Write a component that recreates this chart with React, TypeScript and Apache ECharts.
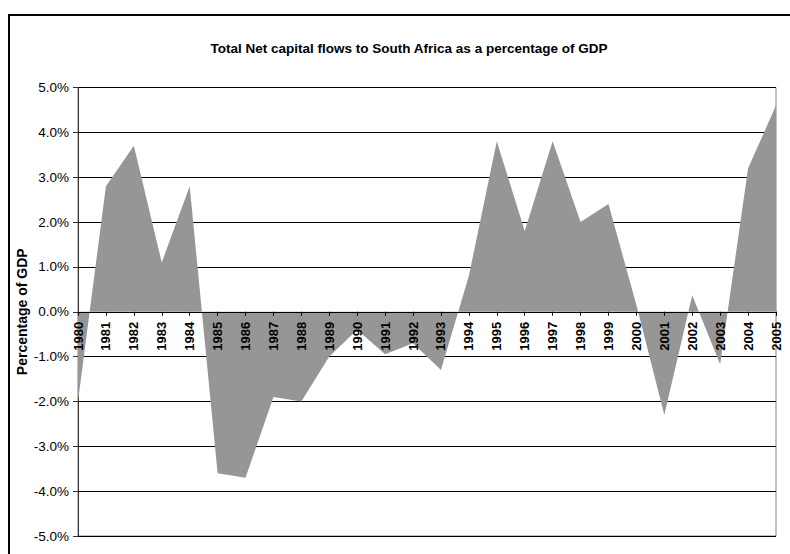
import React, { useEffect, useRef } from "react";
import * as echarts from "echarts";

const years = [
  "1980", "1981", "1982", "1983", "1984", "1985", "1986", "1987", "1988", "1989",
  "1990", "1991", "1992", "1993", "1994", "1995", "1996", "1997", "1998", "1999",
  "2000", "2001", "2002", "2003", "2004", "2005",
];
const netFlows = [
  -2.0, 2.8, 3.7, 1.1, 2.8, -3.6, -3.7, -1.9, -2.0, -1.0,
  -0.4, -0.95, -0.7, -1.3, 0.8, 3.8, 1.8, 3.8, 2.0, 2.4,
  0.15, -2.3, 0.37, -1.17, 3.2, 4.6,
];
const titleText = "Total Net capital flows to South Africa as a percentage of GDP";
const yName = "Percentage of GDP";

const GRID_TOP = 87.5;
const GRID_BOTTOM = 18;
const CHART_H = 554;

export default function App() {
  const ref = useRef<HTMLDivElement>(null);
  useEffect(() => {
    if (!ref.current) return;
    const chart = echarts.init(ref.current, undefined, { renderer: "svg" });
    const font = "Arial, 'Liberation Sans', sans-serif";
    const plotH = CHART_H - GRID_TOP - GRID_BOTTOM;
    chart.setOption({
      animation: false,
      title: {
        text: titleText,
        left: 404,
        top: 36,
        textAlign: "center",
        textStyle: { fontFamily: font, fontSize: 13.5, fontWeight: "bold", color: "#000" },
      },
      graphic: [
        {
          type: "rect",
          shape: { x: 9, y: 15, width: 900, height: 700 },
          style: { fill: "none", stroke: "#000", lineWidth: 2 },
          silent: true,
        },
      ],
      grid: {
        left: 78,
        top: GRID_TOP,
        right: 14,
        bottom: GRID_BOTTOM,
        show: true,
        borderColor: "#808080",
        borderWidth: 1,
        backgroundColor: "transparent",
      },
      xAxis: {
        type: "category",
        data: years,
        boundaryGap: false,
        z: 4,
        offset: -plotH / 2,
        axisLine: { onZero: false, lineStyle: { color: "#000", width: 1 } },
        axisTick: { show: true, length: 4, interval: 0, lineStyle: { color: "#000" } },
        axisLabel: {
          interval: 0,
          rotate: 90,
          margin: 10,
          fontFamily: font,
          fontSize: 13,
          fontWeight: "bold",
          color: "#000",
        },
        splitLine: { show: false },
      },
      yAxis: {
        type: "value",
        min: -5,
        max: 5,
        interval: 1,
        name: yName,
        nameLocation: "middle",
        nameRotate: 90,
        nameGap: 49,
        nameMoveOverlap: false,
        nameTextStyle: { fontFamily: font, fontSize: 14, fontWeight: "bold", color: "#000" },
        axisLine: { show: true, lineStyle: { color: "#333", width: 1 } },
        axisTick: { show: true, length: 5, lineStyle: { color: "#333" } },
        axisLabel: {
          margin: 9,
          fontFamily: font,
          fontSize: 13.5,
          color: "#000",
          formatter: (v: number) => v.toFixed(1) + "%",
        },
        splitLine: { show: true, lineStyle: { color: "#000", width: 1 } },
      },
      series: [
        {
          type: "line",
          data: netFlows,
          symbol: "none",
          lineStyle: { width: 0, color: "#969696" },
          itemStyle: { color: "#969696" },
          areaStyle: { color: "#969696", opacity: 1 },
          z: 2,
        },
      ],
    });
    return () => chart.dispose();
  }, []);
  return (
    <div
      ref={ref}
      style={{ position: "fixed", left: 0, top: 0, width: 790, height: 554, background: "#fff" }}
    />
  );
}
